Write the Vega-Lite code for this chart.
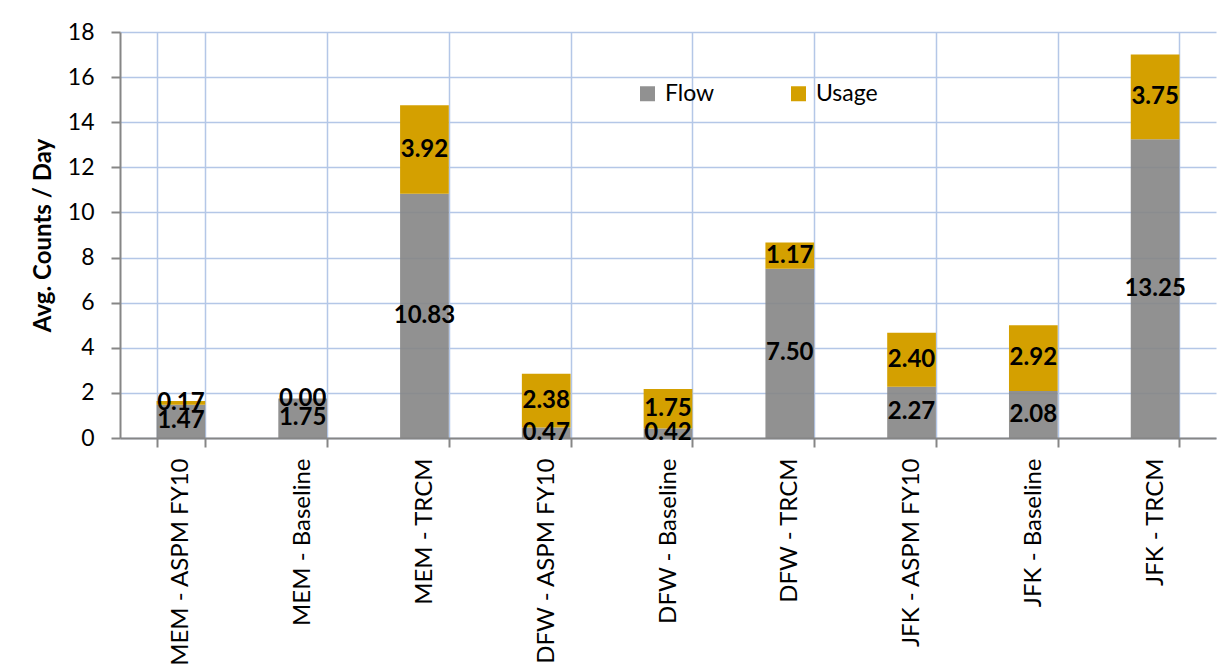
{
  "$schema": "https://vega.github.io/schema/vega-lite/v6.json",
  "width": 1096,
  "height": 406,
  "autosize": {"type": "none"},
  "padding": {"left": 120, "top": 32, "right": 12, "bottom": 231},
  "background": "white",
  "config": {
    "view": {"stroke": null},
    "font": "Lato",
    "axis": {
      "gridColor": "#B4C7E7",
      "gridWidth": 1.5,
      "domainColor": "#868686",
      "domainWidth": 2,
      "tickColor": "#868686",
      "tickWidth": 2,
      "tickSize": 9,
      "labelColor": "#000000",
      "titleColor": "#000000"
    }
  },
  "data": {
    "values": [
      {"site": "MEM - ASPM FY10", "series": "Flow", "count": 1.47},
      {"site": "MEM - ASPM FY10", "series": "Usage", "count": 0.17},
      {"site": "MEM - Baseline", "series": "Flow", "count": 1.75},
      {"site": "MEM - Baseline", "series": "Usage", "count": 0.0},
      {"site": "MEM - TRCM", "series": "Flow", "count": 10.83},
      {"site": "MEM - TRCM", "series": "Usage", "count": 3.92},
      {"site": "DFW - ASPM FY10", "series": "Flow", "count": 0.47},
      {"site": "DFW - ASPM FY10", "series": "Usage", "count": 2.38},
      {"site": "DFW - Baseline", "series": "Flow", "count": 0.42},
      {"site": "DFW - Baseline", "series": "Usage", "count": 1.75},
      {"site": "DFW - TRCM", "series": "Flow", "count": 7.5},
      {"site": "DFW - TRCM", "series": "Usage", "count": 1.17},
      {"site": "JFK - ASPM FY10", "series": "Flow", "count": 2.27},
      {"site": "JFK - ASPM FY10", "series": "Usage", "count": 2.4},
      {"site": "JFK - Baseline", "series": "Flow", "count": 2.08},
      {"site": "JFK - Baseline", "series": "Usage", "count": 2.92},
      {"site": "JFK - TRCM", "series": "Flow", "count": 13.25},
      {"site": "JFK - TRCM", "series": "Usage", "count": 3.75}
    ]
  },
  "transform": [
    {"stack": "count", "groupby": ["site"], "sort": [{"field": "series", "order": "ascending"}], "as": ["lo", "hi"]},
    {"calculate": "(datum.lo + datum.hi) / 2", "as": "mid"}
  ],
  "encoding": {
    "x": {
      "field": "site",
      "type": "nominal",
      "sort": null,
      "title": null,
      "scale": {"paddingInner": 0.6, "paddingOuter": 0.3},
      "axis": {
        "grid": true,
        "tickBand": "extent",
        "labelAngle": -90,
        "labelFont": "Lato",
        "labelFontSize": 24,
        "labelPadding": 11,
        "labelLimit": 300
      }
    }
  },
  "layer": [
    {
      "mark": {"type": "bar"},
      "encoding": {
        "y": {
          "field": "lo",
          "type": "quantitative",
          "scale": {"domain": [0, 18]},
          "axis": {
            "values": [0, 2, 4, 6, 8, 10, 12, 14, 16, 18],
            "title": "Avg. Counts / Day",
            "titleFont": "Lato",
            "titleFontSize": 24,
            "titleFontWeight": "bold",
            "titlePadding": 12,
            "labelFont": "Lato",
            "labelFontSize": 23,
            "labelPadding": 17
          }
        },
        "y2": {"field": "hi"},
        "color": {
          "field": "series",
          "type": "nominal",
          "scale": {"domain": ["Flow", "Usage"], "range": ["#858585", "#D4A000"]},
          "legend": {
            "title": null,
            "orient": "none",
            "legendX": 516,
            "legendY": 50,
            "direction": "horizontal",
            "symbolType": "square",
            "symbolSize": 225,
            "symbolStrokeWidth": 0,
            "symbolOpacity": 1,
            "labelFont": "Lato",
            "labelFontSize": 23,
            "labelOffset": 6,
            "columnPadding": 72
          }
        },
        "opacity": {
          "field": "series",
          "type": "nominal",
          "scale": {"domain": ["Flow", "Usage"], "range": [0.9, 1]},
          "legend": null
        }
      }
    },
    {
      "mark": {"type": "text", "font": "Lato", "fontSize": 24, "fontWeight": "bold", "color": "#000000", "baseline": "middle"},
      "encoding": {
        "y": {"field": "mid", "type": "quantitative"},
        "text": {"field": "count", "type": "quantitative", "format": ".2f"}
      }
    }
  ]
}
